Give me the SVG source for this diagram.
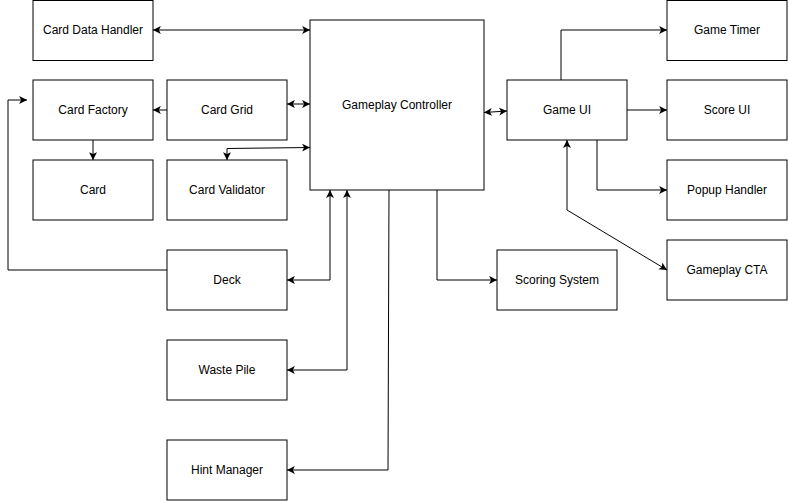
<svg xmlns="http://www.w3.org/2000/svg" width="788" height="501" viewBox="0 0 788 501">
<style>
rect{fill:#fff;stroke:#000;stroke-width:1}
text{font-family:"Liberation Sans",Arial,sans-serif;font-size:12px;fill:#000;text-anchor:middle;dominant-baseline:central}
.c path{fill:none;stroke:#000;stroke-width:1}
</style>
<defs>
<marker id="a" markerUnits="userSpaceOnUse" markerWidth="9" markerHeight="9" refX="7" refY="3.5" orient="auto-start-reverse" viewBox="0 0 8 7">
<path d="M0,0 L7,3.5 L0,7 L1.75,3.5 Z" fill="#000"/>
</marker>
</defs>
<rect x="0" y="0" width="788" height="501" style="stroke:none"/>
<g id="card-data-handler"><rect x="33" y="0.5" width="120" height="60"/><text x="93" y="30">Card Data Handler</text></g>
<g id="card-factory"><rect x="33" y="80" width="120" height="60"/><text x="93" y="110">Card Factory</text></g>
<g id="card-grid"><rect x="167" y="80" width="120" height="60"/><text x="227" y="110">Card Grid</text></g>
<g id="card"><rect x="33" y="160" width="120" height="60"/><text x="93" y="190">Card</text></g>
<g id="card-validator"><rect x="167" y="160" width="120" height="60"/><text x="227" y="190">Card Validator</text></g>
<g id="gameplay-controller"><rect x="310" y="20" width="174" height="170"/><text x="397" y="105">Gameplay Controller</text></g>
<g id="game-ui"><rect x="507" y="80" width="120" height="60"/><text x="567" y="110">Game UI</text></g>
<g id="game-timer"><rect x="667" y="0.5" width="120" height="60"/><text x="727" y="30">Game Timer</text></g>
<g id="score-ui"><rect x="667" y="80" width="120" height="60"/><text x="727" y="110">Score UI</text></g>
<g id="popup-handler"><rect x="667" y="160" width="120" height="60"/><text x="727" y="190">Popup Handler</text></g>
<g id="gameplay-cta"><rect x="667" y="240" width="120" height="60"/><text x="727" y="270">Gameplay CTA</text></g>
<g id="scoring-system"><rect x="497" y="250" width="120" height="60"/><text x="557" y="280">Scoring System</text></g>
<g id="deck"><rect x="167" y="250" width="120" height="60"/><text x="227" y="280">Deck</text></g>
<g id="waste-pile"><rect x="167" y="340" width="120" height="60"/><text x="227" y="370">Waste Pile</text></g>
<g id="hint-manager"><rect x="167" y="440" width="120" height="60"/><text x="227" y="470">Hint Manager</text></g>
<g id="connectors" class="c">
<path d="M153,30 H310" marker-start="url(#a)" marker-end="url(#a)"/>
<path d="M167,110 H153" marker-end="url(#a)"/>
<path d="M93,140 V160" marker-end="url(#a)"/>
<path d="M287,104 H310" marker-start="url(#a)" marker-end="url(#a)"/>
<path d="M227,160 V148.5 L310,147.5" marker-start="url(#a)" marker-end="url(#a)"/>
<path d="M167,270 H8 V100 H27" marker-end="url(#a)"/>
<path d="M287,280 H330 V190" marker-start="url(#a)" marker-end="url(#a)"/>
<path d="M287,370 H347 V190" marker-start="url(#a)" marker-end="url(#a)"/>
<path d="M389,190 L388,470 H287" marker-end="url(#a)"/>
<path d="M437,190 V280 H497" marker-end="url(#a)"/>
<path d="M484,112.5 L507,111" marker-start="url(#a)" marker-end="url(#a)"/>
<path d="M561,80 V30 H667" marker-end="url(#a)"/>
<path d="M627,110 H667" marker-end="url(#a)"/>
<path d="M597,140 V190 H667" marker-end="url(#a)"/>
<path d="M567,140 V210 L667,270" marker-start="url(#a)" marker-end="url(#a)"/>
</g>
</svg>
